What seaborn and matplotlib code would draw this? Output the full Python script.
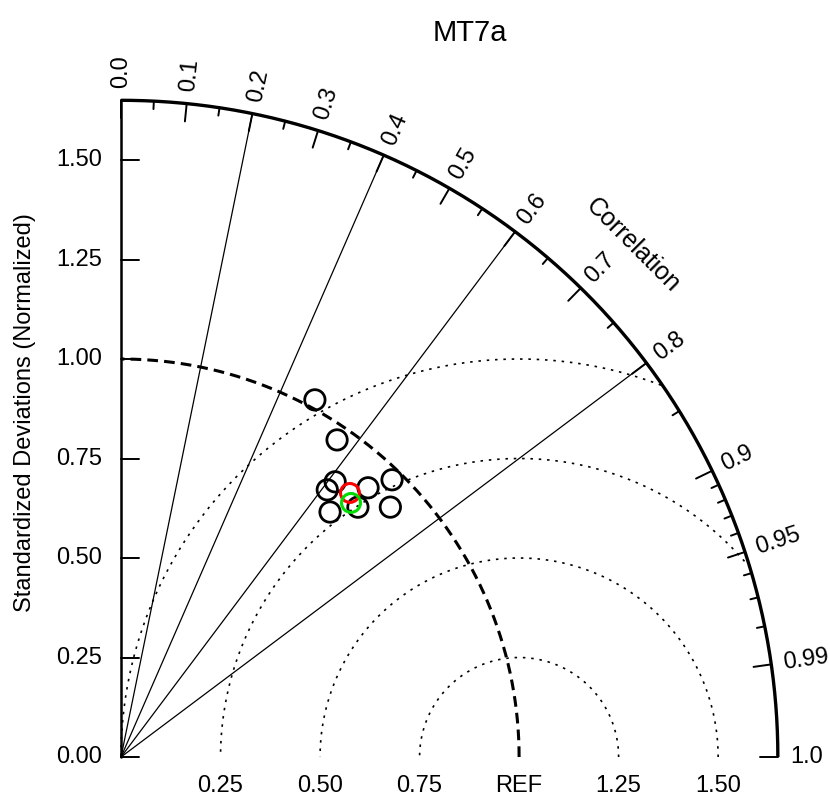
import matplotlib
matplotlib.use('Agg')
import matplotlib.pyplot as plt
import numpy as np
import seaborn as sns

sns.set_theme(style='white')
plt.rcParams['font.family'] = ['Liberation Sans', 'DejaVu Sans']
plt.rcParams['text.color'] = 'black'

# chart values
title = 'MT7a'
ylabel = 'Standardized Deviations (Normalized)'
model_std = [1.021, 0.964, 0.876, 0.848, 0.918, 0.974, 0.923, 0.809, 0.865]
model_corr = [0.477, 0.563, 0.614, 0.611, 0.676, 0.699, 0.733, 0.649, 0.688]
red_std = [0.878]
red_corr = [0.655]
green_std = [0.861]
green_corr = [0.671]

std_ticks = [0.0, 0.25, 0.5, 0.75, 1.0, 1.25, 1.5]
y_ticklabels = ['0.00', '0.25', '0.50', '0.75', '1.00', '1.25', '1.50']
x_tickvals = [0.25, 0.5, 0.75, 1.0, 1.25, 1.5]
x_ticklabels = ['0.25', '0.50', '0.75', 'REF', '1.25', '1.50']
corr_major = [0.0, 0.1, 0.2, 0.3, 0.4, 0.5, 0.6, 0.7, 0.8, 0.9, 0.95, 0.99, 1.0]
corr_labels = ['0.0', '0.1', '0.2', '0.3', '0.4', '0.5', '0.6', '0.7', '0.8',
               '0.9', '0.95', '0.99', '1.0']
corr_minor = [0.05, 0.15, 0.25, 0.35, 0.45, 0.55, 0.65, 0.75, 0.85,
              0.91, 0.92, 0.93, 0.94, 0.96, 0.97, 0.98]
corr_lines = [0.2, 0.4, 0.6, 0.8]
rms_radii = [0.25, 0.5, 0.75, 1.0]
rmax = 1.65


def to_xy(std, corr):
    std = np.asarray(std, dtype=float)
    corr = np.asarray(corr, dtype=float)
    return std * corr, std * np.sqrt(1 - corr ** 2)


fig = plt.figure(figsize=(8.3, 8), dpi=100)
ax = fig.add_axes([0, 0, 1, 1])
ax.set_xlim(-0.304, 1.781)
ax.set_ylim(-0.108, 1.902)
ax.axis('off')

# outer arc and y axis
t = np.linspace(0, np.pi / 2, 400)
ax.plot(rmax * np.cos(t), rmax * np.sin(t), color='black', lw=2.4, solid_capstyle='butt')
ax.plot([0, 0], [0, rmax], color='black', lw=1.8)

# y ticks and labels
for s, lab in zip(std_ticks, y_ticklabels):
    ax.plot([0, 0.045], [s, s], color='black', lw=1.4)
    ax.text(-0.048, s, lab, ha='right', va='center', fontsize=17)

for s, lab in zip(x_tickvals, x_ticklabels):
    ax.text(s, -0.073, lab, ha='center', va='center', fontsize=17)

# correlation ticks
for c in corr_major:
    a = np.arccos(c)
    ax.plot([(rmax - 0.045) * np.cos(a), rmax * np.cos(a)],
            [(rmax - 0.045) * np.sin(a), rmax * np.sin(a)], color='black', lw=1.4)
for c in corr_minor:
    a = np.arccos(c)
    ax.plot([(rmax - 0.02) * np.cos(a), rmax * np.cos(a)],
            [(rmax - 0.02) * np.sin(a), rmax * np.sin(a)], color='black', lw=1.4)
for c, lab in zip(corr_major, corr_labels):
    a = np.arccos(c)
    ax.text(1.68 * np.cos(a), 1.68 * np.sin(a), lab, ha='left', va='center',
            rotation=np.degrees(a), rotation_mode='anchor', fontsize=17)

ax.text(1.82 * np.cos(np.pi / 4), 1.82 * np.sin(np.pi / 4), 'Correlation',
        ha='center', va='center', rotation=-45, fontsize=18)

# radial correlation lines
for c in corr_lines:
    a = np.arccos(c)
    ax.plot([0, rmax * np.cos(a)], [0, rmax * np.sin(a)], color='black', lw=0.9)

# REF std circle
ax.plot(np.cos(t), np.sin(t), color='black', lw=2.2, linestyle=(0, (3.5, 2)))

# centred RMS circles
tt = np.linspace(0, np.pi, 600)
for rr in rms_radii:
    cx = 1 + rr * np.cos(tt)
    cy = rr * np.sin(tt)
    keep = cx ** 2 + cy ** 2 <= rmax ** 2
    ax.plot(np.where(keep, cx, np.nan), np.where(keep, cy, np.nan),
            color='black', lw=1.2, linestyle=(0, (1.5, 3.5)))

# model points
mx, my = to_xy(model_std, model_corr)
sns.scatterplot(x=mx, y=my, ax=ax, s=215, color='none', edgecolor='black',
                linewidth=2.0, zorder=5)
rx, ry = to_xy(red_std, red_corr)
sns.scatterplot(x=rx, y=ry, ax=ax, s=185, color='none', edgecolor='red',
                linewidth=2.2, zorder=6)
gx, gy = to_xy(green_std, green_corr)
sns.scatterplot(x=gx, y=gy, ax=ax, s=185, color='none', edgecolor='#00dd00',
                linewidth=2.2, zorder=7)

fig.text(470 / 830, 1 - 33 / 800, title, ha='center', va='center', fontsize=21)
fig.text(25 / 830, 1 - 413 / 800, ylabel, ha='center', va='center',
         rotation=90, fontsize=17)

fig.savefig('out.png', dpi=100)
